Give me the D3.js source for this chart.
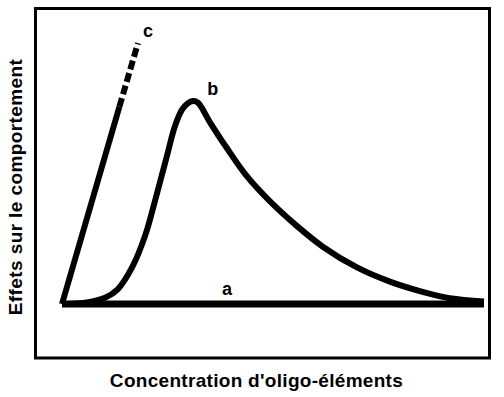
<!DOCTYPE html>
<html>
<head>
<meta charset="utf-8">
<script src="https://cdn.jsdelivr.net/npm/d3@7"></script>
<style>
    body { margin: 0; background: #fff; }
    text { font-family: Arial, "Liberation Sans", sans-serif; font-weight: bold; fill: #000; }
</style>
</head>
<body>
<div id="chart"></div>
<script>
// Curve b: rise to an optimum then slow decline
const curveB = [
    [0, 0], [5.5, 0.5], [10.2, 2.4], [13.2, 5.6], [16.6, 13.9], [19.7, 26.0],
    [22.0, 39.0], [24.9, 56.5], [26.8, 67.8], [28.7, 74.5], [31.0, 77.2],
    [32.2, 76.6], [35.1, 69.0], [39.1, 59.2], [43.8, 48.6], [49.3, 39.0],
    [55.7, 29.6], [61.8, 21.8], [69.9, 13.9], [77.7, 8.5], [84.8, 4.9],
    [91.9, 2.2], [100, 1.0]
];

// Curve a: no effect
const curveA = [[0, 0], [100, 0]];

// Curve c: linear increase, solid then dashed (extrapolated)
const curveCSolid = [[0, 0], [13.6, 75]];
const curveCDashed = [[13.6, 75], [18.0, 99.2]];

// Curve labels
const labelNames = ["a", "b", "c"];
const labelPos = [[37.9, 3.4], [34.4, 79.5], [19.2, 101.5]];

const xTitle = "Concentration d'oligo-éléments";
const yTitle = "Effets sur le comportement";

const W = 504, H = 397;

const svg = d3.select("#chart")
    .append("svg")
    .attr("width", W)
    .attr("height", H);

const x = d3.scaleLinear().domain([0, 100]).range([62, 484]);
const y = d3.scaleLinear().domain([0, 100]).range([304, 41]);

// Frame
svg.append("rect")
    .attr("x", 35.5)
    .attr("y", 8.5)
    .attr("width", 454)
    .attr("height", 349.5)
    .attr("fill", "none")
    .attr("stroke", "#000")
    .attr("stroke-width", 3);

const line = d3.line()
    .x(d => x(d[0]))
    .y(d => y(d[1]));

svg.append("path")
    .attr("d", line(curveA))
    .attr("fill", "none")
    .attr("stroke", "#000")
    .attr("stroke-width", 7);

svg.append("path")
    .attr("d", line.curve(d3.curveCatmullRom.alpha(0.5))(curveB))
    .attr("fill", "none")
    .attr("stroke", "#000")
    .attr("stroke-width", 6)
    .attr("stroke-linejoin", "round");

line.curve(d3.curveLinear);

svg.append("path")
    .attr("d", line(curveCSolid))
    .attr("fill", "none")
    .attr("stroke", "#000")
    .attr("stroke-width", 6);

svg.append("path")
    .attr("d", line(curveCDashed))
    .attr("fill", "none")
    .attr("stroke", "#000")
    .attr("stroke-width", 6)
    .attr("stroke-dasharray", "9,4");

// Labels on the curves
svg.selectAll(".curve-label")
    .data(labelNames)
    .enter()
    .append("text")
    .attr("class", "curve-label")
    .attr("x", (d, i) => x(labelPos[i][0]))
    .attr("y", (d, i) => y(labelPos[i][1]))
    .style("font-size", "18px")
    .text(d => d);

// Axis titles
svg.append("text")
    .attr("x", 256.5)
    .attr("y", 387)
    .attr("text-anchor", "middle")
    .style("font-size", "19px")
    .style("letter-spacing", "0.3px")
    .text(xTitle);

svg.append("text")
    .attr("transform", "translate(22,187) rotate(-90)")
    .attr("text-anchor", "middle")
    .style("font-size", "19px")
    .style("letter-spacing", "0.4px")
    .text(yTitle);
</script>
</body>
</html>
